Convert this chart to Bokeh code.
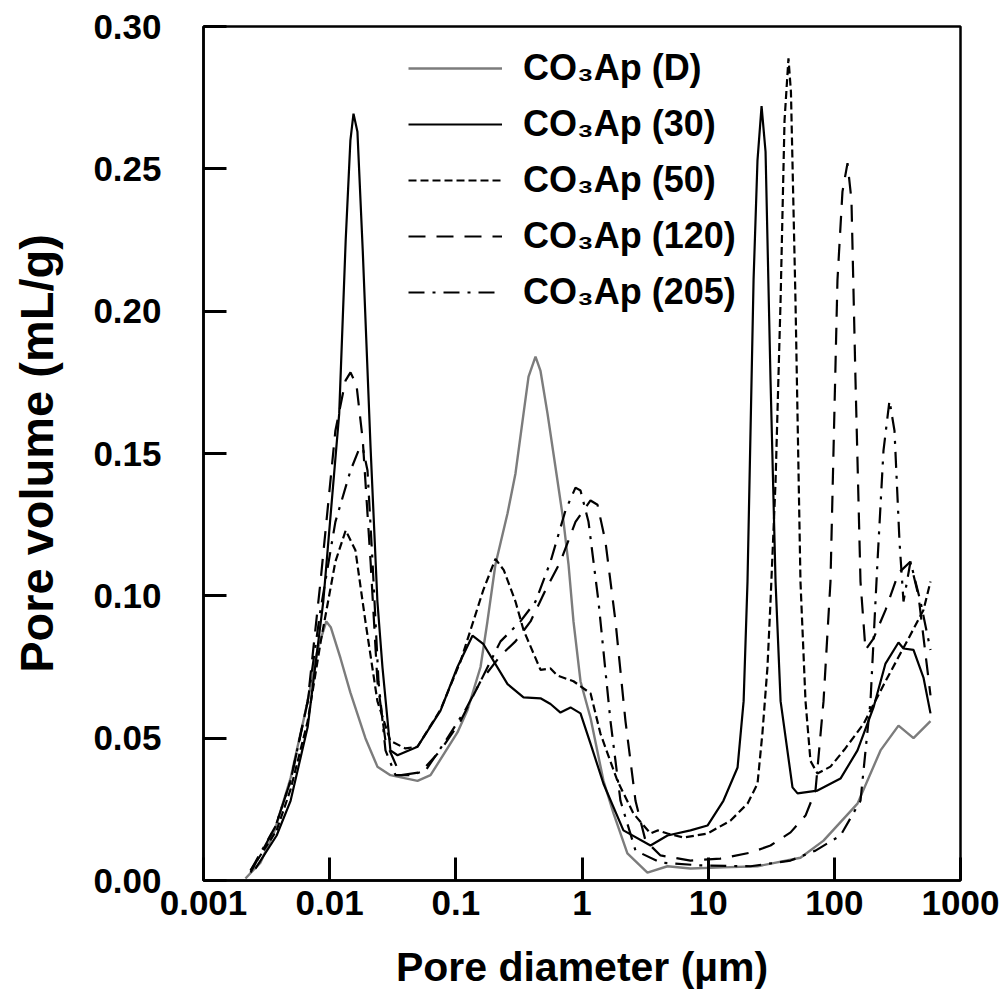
from bokeh.plotting import figure
from bokeh.models import (FixedTicker, NumeralTickFormatter, CustomJSTickFormatter,
                          Range1d, Legend, LegendItem)
from bokeh.embed import file_html
from bokeh.resources import INLINE

# ---------------- data (pore diameter in um, pore volume in mL/g) ----------------
d_x = [0.00215, 0.00283, 0.0036, 0.0049, 0.0067, 0.0080, 0.0094, 0.0102, 0.0122, 0.0146,
       0.0192, 0.0239, 0.0303, 0.0497, 0.063, 0.103, 0.124, 0.157, 0.178, 0.206, 0.257,
       0.297, 0.344, 0.377, 0.428, 0.469, 0.533, 0.639, 0.714, 0.782, 0.856, 0.973, 1.17,
       1.48, 1.78, 2.29, 3.30, 4.76, 7.24, 13.2, 24.6, 53.9, 82.1, 152.6, 232.3, 322.5,
       424.1, 578.3]
d_y = [0.0007, 0.0063, 0.0165, 0.036, 0.063, 0.081, 0.091, 0.089, 0.078, 0.066,
       0.050, 0.040, 0.037, 0.035, 0.037, 0.052, 0.060, 0.075, 0.091, 0.111, 0.129,
       0.143, 0.164, 0.177, 0.184, 0.179, 0.164, 0.1405, 0.126, 0.111, 0.091, 0.070, 0.057,
       0.035, 0.0235, 0.0095, 0.0028, 0.005, 0.0042, 0.0046, 0.005, 0.008, 0.014, 0.027, 0.0457, 0.0544,
       0.050, 0.056]

c30_x = [0.00258, 0.0038, 0.0049, 0.0067, 0.0089, 0.0119, 0.0134, 0.0146, 0.01545, 0.0166,
         0.0183, 0.0211, 0.0239, 0.0262, 0.0303, 0.0345, 0.0497, 0.0756, 0.103, 0.1355, 0.1656,
         0.257, 0.344, 0.469, 0.563, 0.675, 0.811, 0.973, 1.17, 1.48, 2.13, 3.49, 4.76, 7.24,
         9.88, 13.2, 17.1, 19.1, 20.5, 22.9, 24.6, 26.5, 28.5, 31.2, 34.2, 37.5, 46.6, 51.1,
         73.5, 111.9, 152.6, 204.4, 254.4, 322.5, 353.3, 424.1, 508.8, 578.3]
c30_y = [0.0042, 0.0158, 0.028, 0.054, 0.098, 0.164, 0.225, 0.260, 0.2694, 0.263,
         0.221, 0.152, 0.098, 0.075, 0.0457, 0.044, 0.047, 0.0597, 0.075, 0.086, 0.083,
         0.069, 0.0643, 0.064, 0.062, 0.059, 0.0608, 0.0587, 0.048, 0.034, 0.0176, 0.0123, 0.0158, 0.0176,
         0.0193, 0.028, 0.0397, 0.063, 0.105, 0.211, 0.253, 0.272, 0.256, 0.176, 0.105, 0.063, 0.0327, 0.0306,
         0.0316, 0.0358, 0.0457, 0.0608, 0.0762, 0.0836, 0.0815, 0.081, 0.0713, 0.0587]

c50_x = [0.00236, 0.0038, 0.0049, 0.0067, 0.0085, 0.0111, 0.0134, 0.0160, 0.0192, 0.0239,
         0.0303, 0.0399, 0.0497, 0.0756, 0.109, 0.165, 0.206, 0.240, 0.297, 0.344, 0.469,
         0.563, 0.639, 0.856, 1.17, 1.40, 1.91, 2.56, 3.49, 3.97, 4.76, 6.38, 9.88, 15.0,
         20.5, 24.6, 26.9, 29.5, 31.2, 34.2, 37.5, 40.3, 43.3, 45.3, 49.2, 53.9, 59.1, 64.7,
         73.5, 93.2, 120.3, 170.3, 254.4, 387.0, 508.8, 578.3]
c50_y = [0.0035, 0.0176, 0.032, 0.056, 0.084, 0.112, 0.123, 0.116, 0.091, 0.063,
         0.049, 0.0464, 0.047, 0.060, 0.077, 0.102, 0.113, 0.109, 0.098, 0.088, 0.074,
         0.0745, 0.072, 0.070, 0.0657, 0.0516, 0.035, 0.0235, 0.0165, 0.0176, 0.0165, 0.0151, 0.0165, 0.021,
         0.027, 0.034, 0.0516, 0.0748, 0.098, 0.14, 0.204, 0.267, 0.2888, 0.277, 0.204, 0.105, 0.063, 0.042,
         0.0376, 0.040, 0.046, 0.055, 0.070, 0.085, 0.095, 0.105]

c120_x = [0.00236, 0.00372, 0.0049, 0.0067, 0.00846, 0.0111, 0.01335, 0.01463, 0.01632, 0.0183,
          0.0211, 0.0239, 0.0277, 0.0364, 0.0525, 0.0756, 0.109, 0.157, 0.226, 0.297, 0.391,
          0.514, 0.675, 0.888, 1.168, 1.327, 1.535, 1.843, 2.211, 2.655, 3.186, 4.19, 7.24,
          12.5, 21.7, 31.2, 45.0, 59.1, 70.9, 82.1, 93.2, 105.9, 116.0, 127.2, 136.7, 147.1,
          161.2, 176.6, 204.4, 254.4, 322.5, 400.0, 464.5, 578.3]
c120_y = [0.0028, 0.019, 0.035, 0.063, 0.105, 0.158, 0.1756, 0.1785, 0.174, 0.1546,
          0.112, 0.070, 0.049, 0.037, 0.038, 0.0457, 0.056, 0.070, 0.079, 0.084, 0.091,
          0.102, 0.112, 0.126, 0.1335, 0.132, 0.119, 0.091, 0.056, 0.028, 0.014, 0.0088, 0.007,
          0.0077, 0.0098, 0.0123, 0.0169, 0.0228, 0.0316, 0.063, 0.105, 0.211, 0.242, 0.252, 0.239, 0.176,
          0.105, 0.081, 0.085, 0.095, 0.108, 0.112, 0.100, 0.065]

c205_x = [0.00236, 0.00372, 0.0049, 0.0067, 0.00846, 0.0111, 0.01463, 0.01692, 0.0183, 0.01995,
          0.02186, 0.02438, 0.0277, 0.03325, 0.0437, 0.0575, 0.0828, 0.1193, 0.157, 0.226, 0.325,
          0.428, 0.563, 0.740, 0.888, 0.973, 1.126, 1.351, 1.682, 2.018, 2.655, 4.19, 8.69, 21.7,
          45.0, 70.9, 111.9, 161.2, 193.5, 219.8, 245.2, 273.6, 299.8, 328.5, 353.3, 401.4, 481.7,
          578.3]
c205_y = [0.0035, 0.019, 0.035, 0.063, 0.095, 0.126, 0.144, 0.151, 0.152, 0.144,
          0.112, 0.070, 0.0457, 0.037, 0.037, 0.0386, 0.049, 0.060, 0.070, 0.084, 0.091,
          0.098, 0.112, 0.130, 0.138, 0.137, 0.126, 0.098, 0.056, 0.028, 0.0105, 0.0063, 0.0053, 0.005,
          0.007, 0.0105, 0.0158, 0.028, 0.063, 0.112, 0.151, 0.1686, 0.158, 0.119, 0.098, 0.112, 0.098,
          0.081]

x_ticks = [0.001, 0.01, 0.1, 1, 10, 100, 1000]
y_ticks = [0.0, 0.05, 0.10, 0.15, 0.20, 0.25, 0.30]
labels = ["CO\u2083Ap (D)", "CO\u2083Ap (30)", "CO\u2083Ap (50)", "CO\u2083Ap (120)", "CO\u2083Ap (205)"]

FONT = "Liberation Sans"

p = figure(x_axis_type="log", frame_width=757, frame_height=854,
           min_border_left=203, min_border_right=48, min_border_top=26, min_border_bottom=127,
           output_backend="svg", toolbar_location=None,
           x_range=Range1d(0.001, 1000), y_range=Range1d(0.0, 0.30))
p.background_fill_color = None
p.border_fill_color = "white"
p.outline_line_color = "black"
p.outline_line_width = 2.5
p.xgrid.visible = False
p.ygrid.visible = False

styles = [
    dict(line_color="#7c7c7c", line_width=2.4, line_dash="solid"),
    dict(line_color="black", line_width=2.2, line_dash="solid"),
    dict(line_color="black", line_width=2.2, line_dash="8 4"),
    dict(line_color="black", line_width=2.2, line_dash="17 11"),
    dict(line_color="black", line_width=2.2, line_dash="16 8 3 8"),
]
series = [(d_x, d_y), (c30_x, c30_y), (c50_x, c50_y), (c120_x, c120_y), (c205_x, c205_y)]
renderers = []
for (xs, ys), st in zip(series, styles):
    renderers.append(p.line(xs, ys, **st))

for ax in (p.xaxis[0], p.yaxis[0]):
    ax.axis_line_color = "black"
    ax.axis_line_width = 2.5
    ax.major_tick_line_color = "black"
    ax.major_tick_line_width = 3
    ax.major_tick_in = 23
    ax.major_tick_out = 0
    ax.minor_tick_line_color = None
    ax.major_label_text_font = FONT
    ax.major_label_text_font_style = "bold"
    ax.major_label_text_font_size = "35px"
    ax.major_label_text_color = "black"
    ax.axis_label_text_font = FONT
    ax.axis_label_text_font_style = "bold"
    ax.axis_label_text_color = "black"

p.xaxis[0].ticker = FixedTicker(ticks=x_ticks, minor_ticks=[])
p.xaxis[0].formatter = CustomJSTickFormatter(code="return String(tick);")
p.xaxis[0].major_label_standoff = 10
p.xaxis[0].axis_label = "Pore diameter (\u00b5m)"
p.xaxis[0].axis_label_text_font_size = "41px"
p.xaxis[0].axis_label_standoff = 26

p.yaxis[0].ticker = FixedTicker(ticks=y_ticks, minor_ticks=[])
p.yaxis[0].formatter = NumeralTickFormatter(format="0.00")
p.yaxis[0].major_label_standoff = 42
p.yaxis[0].axis_label = "Pore volume (mL/g)"
p.yaxis[0].axis_label_text_font_size = "47px"
p.yaxis[0].axis_label_standoff = 27

legend = Legend(items=[LegendItem(label=l, renderers=[r]) for l, r in zip(labels, renderers)],
                location=(195, 557))
legend.label_text_font = FONT
legend.label_text_font_style = "bold"
legend.label_text_font_size = "36px"
legend.label_text_color = "black"
legend.glyph_width = 94
legend.glyph_height = 40
legend.label_height = 40
legend.label_standoff = 21
legend.spacing = 14
legend.padding = 10
legend.border_line_alpha = 0
legend.background_fill_alpha = 0
p.add_layout(legend)

open("out.html", "w").write(file_html(p, INLINE))
